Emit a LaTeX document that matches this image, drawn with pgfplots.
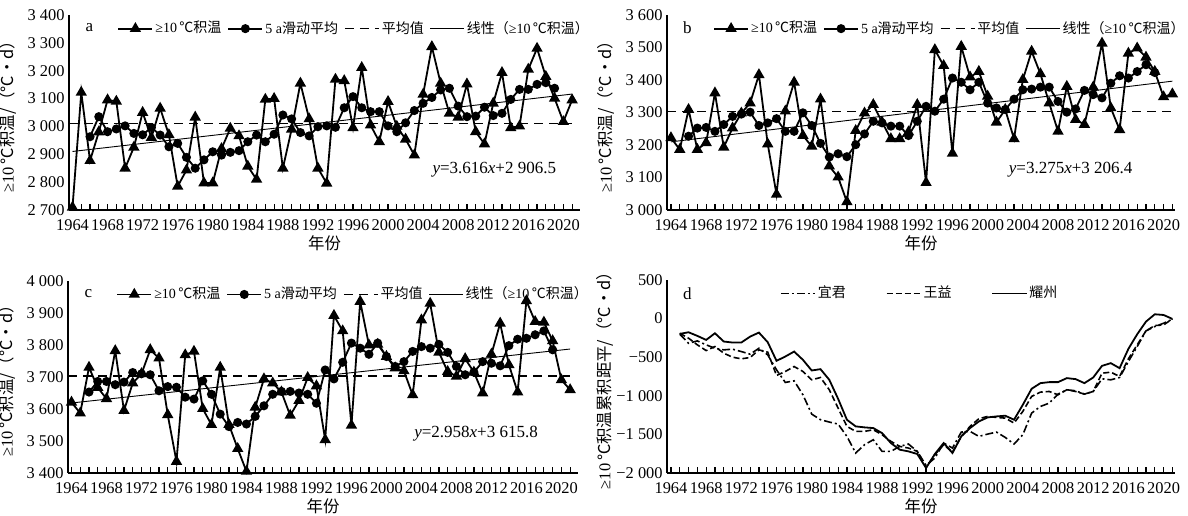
\documentclass[border=0pt]{standalone}
\usepackage{fontspec}
\setmainfont{Liberation Serif}
\newfontfamily\cjk{Noto Sans CJK SC}
\usepackage{pgfplots}
\pgfplotsset{compat=1.18}

\newcommand{\tfont}{\fontsize{8.2}{9}\selectfont}
\newcommand{\lfont}{\fontsize{7.0}{8}\selectfont}

\tikzset{letter/.style={anchor=center, font=\fontsize{8.5}{9}\selectfont}}
\pgfplotsset{
  panel/.style={
    scale only axis, anchor=south west,
    axis x line*=bottom, axis y line*=left,
    axis line style={line width=0.7pt},
    xtick={1964,1968,...,2020},
    xticklabels={1964,1968,1972,1976,1980,1984,1988,1992,1996,2000,2004,2008,2012,2016,2020},
    minor xtick={1964,1965,...,2021},
    tick align=inside,
    major tick length=3pt, minor tick length=3pt,
    xtick style={black, line width=0.6pt},
    minor tick style={black, line width=0.6pt},
    ytick style={draw=none},
    ticklabel style={font=\tfont},
    xticklabel style={inner sep=0pt, yshift=-4.5pt},
    yticklabel style={inner sep=2pt},
    label style={font=\tfont},
    xlabel={\cjk 年份},
    xlabel style={yshift=1pt},
    clip=false,
    legend style={draw=none, fill=none, font=\lfont, legend columns=4,
      inner sep=0pt,
      /tikz/every even column/.append style={column sep=2pt},
      nodes={inner sep=1pt}},
    legend cell align=left,
  },
  tri/.style={black, line width=0.9pt, mark=triangle*, mark size=2.4pt},
  circ/.style={black, line width=0.9pt, mark=*, mark size=1.8pt},
  meanl/.style={black, line width=0.8pt, dash pattern=on 4.5pt off 3pt},
  trend/.style={black, line width=0.45pt},
}

\begin{document}
\begin{tikzpicture}
\useasboundingbox (0,0) rectangle (594pt,257.5pt);

% ---------------- a ----------------
\begin{axis}[panel, at={(34.5pt,152.5pt)}, width=255.5pt, height=97.5pt,
  xmin=1963.6, xmax=2021.9, ymin=2700, ymax=3400,
  ytick={2700,2800,...,3400},
  yticklabels={2~700,2~800,2~900,3~000,3~100,3~200,3~300,3~400},
  ylabel={≥10\,{\cjk ℃积温/（℃·d）}},
  legend style={at={(0.094,0.93)}, anchor=west}]
\addplot[tri] coordinates {
(1964,2710) (1965,3122) (1966,2877) (1967,2980) (1968,3095) (1969,3090)
(1970,2850) (1971,2925) (1972,3050) (1973,2960) (1974,3065) (1975,2970)
(1976,2785) (1977,2843) (1978,3033) (1979,2797) (1980,2797) (1981,2920)
(1982,2993) (1983,2966) (1984,2857) (1985,2810) (1986,3097) (1987,3100)
(1988,2850) (1989,2990) (1990,3155) (1991,3027) (1992,2850) (1993,2796)
(1994,3169) (1995,3164) (1996,2995) (1997,3211) (1998,3005) (1999,2945)
(2000,3089) (2001,3000) (2002,2954) (2003,2897) (2004,3115) (2005,3286)
(2006,3155) (2007,3047) (2008,3033) (2009,3152) (2010,2981) (2011,2937)
(2012,3083) (2013,3193) (2014,2995) (2015,3001) (2016,3205) (2017,3280)
(2018,3179) (2019,3101) (2020,3017) (2021,3095)};
\addlegendentry{≥10\,{\cjk ℃积温}}
\addplot[circ] coordinates {
(1966,2963) (1967,3035) (1968,2981) (1969,2991) (1970,3002) (1971,2975)
(1972,2970) (1973,2996) (1974,2969) (1975,2927) (1976,2939) (1977,2889)
(1978,2850) (1979,2880) (1980,2909) (1981,2897) (1982,2907) (1983,2913)
(1984,2945) (1985,2969) (1986,2945) (1987,2972) (1988,3041) (1989,3027)
(1990,2978) (1991,2966) (1992,2999) (1993,3002) (1994,2997) (1995,3067)
(1996,3107) (1997,3067) (1998,3053) (1999,3053) (2000,3002) (2001,2981)
(2002,3013) (2003,3057) (2004,3083) (2005,3104) (2006,3131) (2007,3137)
(2008,3073) (2009,3035) (2010,3037) (2011,3069) (2012,3039) (2013,3047)
(2014,3097) (2015,3133) (2016,3133) (2017,3151) (2018,3157) (2019,3137)};
\addlegendentry{5 a{\cjk 滑动平均}}
\addplot[meanl] coordinates {(1963.6,3010) (2021,3010)};
\addlegendentry{\cjk 平均值}
\addplot[trend] coordinates {(1964,2910.1) (2021,3116.2)};
\addlegendentry{{\cjk 线性（}≥10\,{\cjk ℃积温）}}
\node[letter] at (rel axis cs:0.04,0.935) {a};
\node[anchor=east, font=\fontsize{8.5}{9}\selectfont] at (rel axis cs:0.967,0.205)
  {\textit{y}=3.616\textit{x}+2~906.5};
\end{axis}

% ---------------- b ----------------
\begin{axis}[panel, at={(333.5pt,152.5pt)}, width=254pt, height=97.5pt,
  xmin=1963.55, xmax=2021.3, ymin=3000, ymax=3600,
  ytick={3000,3100,...,3600},
  yticklabels={3~000,3~100,3~200,3~300,3~400,3~500,3~600},
  ylabel={≥10\,{\cjk ℃积温/（℃·d）}},
  legend style={at={(0.09,0.93)}, anchor=west}]
\addplot[tri] coordinates {
(1964,3222) (1965,3186) (1966,3309) (1967,3186) (1968,3207) (1969,3360)
(1970,3193) (1971,3252) (1972,3298) (1973,3329) (1974,3416) (1975,3203)
(1976,3048) (1977,3304) (1978,3393) (1979,3229) (1980,3196) (1981,3341)
(1982,3135) (1983,3101) (1984,3025) (1985,3244) (1986,3298) (1987,3324)
(1988,3270) (1989,3219) (1990,3219) (1991,3240) (1992,3324) (1993,3084)
(1994,3493) (1995,3444) (1996,3174) (1997,3503) (1998,3409) (1999,3426)
(2000,3350) (2001,3270) (2002,3309) (2003,3219) (2004,3401) (2005,3488)
(2006,3419) (2007,3329) (2008,3242) (2009,3380) (2010,3278) (2011,3263)
(2012,3378) (2013,3513) (2014,3314) (2015,3247) (2016,3482) (2017,3498)
(2018,3470) (2019,3426) (2020,3348) (2021,3357)};
\addlegendentry{≥10\,{\cjk ℃积温}}
\addplot[circ] coordinates {
(1966,3227) (1967,3252) (1968,3254) (1969,3242) (1970,3263) (1971,3288)
(1972,3295) (1973,3301) (1974,3260) (1975,3268) (1976,3281) (1977,3242)
(1978,3242) (1979,3299) (1980,3260) (1981,3205) (1982,3163) (1983,3173)
(1984,3164) (1985,3201) (1986,3234) (1987,3273) (1988,3268) (1989,3258)
(1990,3258) (1991,3229) (1992,3273) (1993,3319) (1994,3304) (1995,3341)
(1996,3406) (1997,3393) (1998,3370) (1999,3393) (2000,3329) (2001,3314)
(2002,3309) (2003,3341) (2004,3370) (2005,3372) (2006,3378) (2007,3378)
(2008,3334) (2009,3301) (2010,3311) (2011,3368) (2012,3355) (2013,3345)
(2014,3390) (2015,3413) (2016,3406) (2017,3426) (2018,3447) (2019,3423)};
\addlegendentry{5 a{\cjk 滑动平均}}
\addplot[meanl] coordinates {(1963.55,3303) (2021,3303)};
\addlegendentry{\cjk 平均值}
\addplot[trend] coordinates {(1964,3209.7) (2021,3396.4)};
\addlegendentry{{\cjk 线性（}≥10\,{\cjk ℃积温）}}
\node[letter] at (rel axis cs:0.04,0.935) {b};
\node[anchor=east, font=\fontsize{8.5}{9}\selectfont] at (rel axis cs:0.93,0.205)
  {\textit{y}=3.275\textit{x}+3~206.4};
\end{axis}

% ---------------- c ----------------
\begin{axis}[panel, at={(34pt,21pt)}, width=255pt, height=96pt,
  xmin=1963.6, xmax=2021.9, ymin=3400, ymax=4000,
  ytick={3400,3500,...,4000},
  yticklabels={3~400,3~500,3~600,3~700,3~800,3~900,4~000},
  ylabel={≥10\,{\cjk ℃积温/（℃·d）}},
  legend style={at={(0.094,0.93)}, anchor=west}]
\addplot[tri] coordinates {
(1964,3621) (1965,3587) (1966,3730) (1967,3667) (1968,3632) (1969,3782)
(1970,3595) (1971,3681) (1972,3710) (1973,3785) (1974,3759) (1975,3582)
(1976,3436) (1977,3769) (1978,3780) (1979,3601) (1980,3551) (1981,3730)
(1982,3551) (1983,3476) (1984,3405) (1985,3605) (1986,3694) (1987,3681)
(1988,3653) (1989,3580) (1990,3626) (1991,3698) (1992,3672) (1993,3504)
(1994,3892) (1995,3844) (1996,3549) (1997,3936) (1998,3800) (1999,3802)
(2000,3764) (2001,3728) (2002,3719) (2003,3644) (2004,3878) (2005,3930)
(2006,3777) (2007,3717) (2008,3702) (2009,3757) (2010,3715) (2011,3650)
(2012,3771) (2013,3868) (2014,3738) (2015,3653) (2016,3938) (2017,3873)
(2018,3871) (2019,3813) (2020,3691) (2021,3660)};
\addlegendentry{≥10\,{\cjk ℃积温}}
\addplot[circ] coordinates {
(1966,3653) (1967,3686) (1968,3686) (1969,3676) (1970,3684) (1971,3714)
(1972,3710) (1973,3707) (1974,3657) (1975,3670) (1976,3668) (1977,3637)
(1978,3631) (1979,3688) (1980,3646) (1981,3584) (1982,3545) (1983,3558)
(1984,3553) (1985,3577) (1986,3610) (1987,3646) (1988,3655) (1989,3655)
(1990,3650) (1991,3646) (1992,3618) (1993,3722) (1994,3694) (1995,3746)
(1996,3806) (1997,3790) (1998,3771) (1999,3806) (2000,3764) (2001,3733)
(2002,3748) (2003,3780) (2004,3795) (2005,3790) (2006,3802) (2007,3777)
(2008,3733) (2009,3707) (2010,3715) (2011,3748) (2012,3743) (2013,3735)
(2014,3798) (2015,3818) (2016,3821) (2017,3832) (2018,3844) (2019,3785)};
\addlegendentry{5 a{\cjk 滑动平均}}
\addplot[meanl] coordinates {(1963.6,3703) (2021,3703)};
\addlegendentry{\cjk 平均值}
\addplot[trend] coordinates {(1964,3618.8) (2021,3787.4)};
\addlegendentry{{\cjk 线性（}≥10\,{\cjk ℃积温）}}
\node[letter] at (rel axis cs:0.04,0.935) {c};
\node[anchor=east, font=\fontsize{8.5}{9}\selectfont] at (rel axis cs:0.935,0.205)
  {\textit{y}=2.958\textit{x}+3~615.8};
\end{axis}

% ---------------- d ----------------
\begin{axis}[panel, at={(333.5pt,21pt)}, width=254pt, height=96.5pt,
  xmin=1963.55, xmax=2021.3, ymin=-2000, ymax=500,
  ytick={-2000,-1500,...,500},
  yticklabels={−2~000,−1~500,−1~000,−500,0,500},
  ylabel={≥10\,{\cjk ℃积温累积距平/（℃·d）}},
  ylabel style={yshift=-4pt},
  legend style={at={(0.222,0.93)}, anchor=west, legend columns=3,
    /tikz/every even column/.append style={column sep=19pt}},
  legend image post style={line width=0.8pt}]
\addplot[black, line width=0.8pt, dash pattern=on 4pt off 1.5pt on 1pt off 1.5pt] coordinates {
(1965,-203) (1966,-319) (1967,-289) (1968,-340) (1969,-384) (1970,-405)
(1971,-396) (1972,-427) (1973,-461) (1974,-384) (1975,-470) (1976,-664)
(1977,-827) (1978,-806) (1979,-987) (1980,-1237) (1981,-1310) (1982,-1340)
(1983,-1366) (1984,-1526) (1985,-1741) (1986,-1634) (1987,-1569) (1988,-1720)
(1989,-1720) (1990,-1655) (1991,-1625) (1992,-1720) (1993,-1901) (1994,-1806)
(1995,-1612) (1996,-1677) (1997,-1470) (1998,-1461) (1999,-1526) (2000,-1496)
(2001,-1470) (2002,-1539) (2003,-1625) (2004,-1504) (2005,-1224) (2006,-1138)
(2007,-1095) (2008,-978) (2009,-922) (2010,-935) (2011,-978) (2012,-944)
(2013,-780) (2014,-793) (2015,-763) (2016,-556) (2017,-362) (2018,-159)
(2019,-103) (2020,-60) (2021,-9)};
\addlegendentry{\cjk 宜君}
\addplot[black, line width=0.8pt, dash pattern=on 3pt off 1.5pt] coordinates {
(1965,-190) (1966,-254) (1967,-340) (1968,-414) (1969,-362) (1970,-448)
(1971,-500) (1972,-521) (1973,-504) (1974,-405) (1975,-435) (1976,-737)
(1977,-685) (1978,-621) (1979,-685) (1980,-793) (1981,-763) (1982,-922)
(1983,-1159) (1984,-1396) (1985,-1461) (1986,-1461) (1987,-1440) (1988,-1504)
(1989,-1590) (1990,-1655) (1991,-1677) (1992,-1720) (1993,-1927) (1994,-1763)
(1995,-1634) (1996,-1729) (1997,-1526) (1998,-1396) (1999,-1297) (2000,-1267)
(2001,-1280) (2002,-1289) (2003,-1353) (2004,-1202) (2005,-1008) (2006,-952)
(2007,-944) (2008,-987) (2009,-922) (2010,-944) (2011,-978) (2012,-944)
(2013,-707) (2014,-694) (2015,-750) (2016,-521) (2017,-340) (2018,-159)
(2019,-90) (2020,-82) (2021,-4)};
\addlegendentry{\cjk 王益}
\addplot[black, line width=0.9pt] coordinates {
(1965,-198) (1966,-177) (1967,-224) (1968,-276) (1969,-190) (1970,-297)
(1971,-310) (1972,-310) (1973,-233) (1974,-181) (1975,-306) (1976,-547)
(1977,-491) (1978,-427) (1979,-534) (1980,-672) (1981,-655) (1982,-793)
(1983,-1039) (1984,-1310) (1985,-1396) (1986,-1409) (1987,-1418) (1988,-1483)
(1989,-1612) (1990,-1698) (1991,-1720) (1992,-1754) (1993,-1935) (1994,-1754)
(1995,-1612) (1996,-1741) (1997,-1526) (1998,-1418) (1999,-1332) (2000,-1280)
(2001,-1267) (2002,-1258) (2003,-1310) (2004,-1116) (2005,-909) (2006,-836)
(2007,-823) (2008,-823) (2009,-771) (2010,-784) (2011,-836) (2012,-763)
(2013,-612) (2014,-577) (2015,-642) (2016,-392) (2017,-203) (2018,-39)
(2019,56) (2020,47) (2021,-4)};
\addlegendentry{\cjk 耀州}
\node[letter] at (rel axis cs:0.04,0.93) {d};
\end{axis}
\end{tikzpicture}
\end{document}
